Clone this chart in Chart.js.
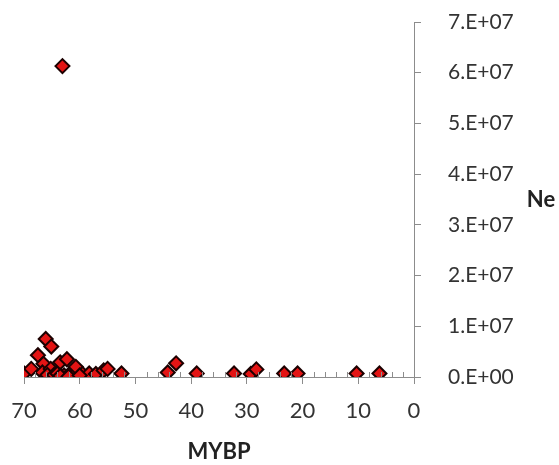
<!DOCTYPE html>
<html>
<head>
<meta charset="utf-8">
<script src="https://cdn.jsdelivr.net/npm/chart.js@4.4.0/dist/chart.umd.min.js"></script>
<style>
  body { margin: 0; background: #fff; }
  canvas { display: block; }
</style>
</head>
<body>
<canvas id="canvas" width="559" height="465"></canvas>
<script>
// age (million years before present) and effective population size
const mybp = [70.0, 68.7, 67.5, 66.5, 66.1, 65.1, 66.7, 65.2, 65.8, 64.6,
  64.0, 63.5, 63.1, 62.3, 62.8, 61.9, 61.1, 60.7, 59.5, 58.3,
  57.1, 55.7, 55.0, 52.5, 44.2, 42.7, 39.0, 32.3, 29.3, 28.3,
  23.3, 20.9, 10.3, 6.2, 63.5, 62.0, 60.0];
const ne = [7e5, 1.6e6, 4.3e6, 2.6e6, 7.5e6, 6.0e6, 9e5, 1.6e6, 4e5, 4e5,
  7e5, 2.9e6, 6.13e7, 3.5e6, 3e5, 5e5, 4e5, 2.0e6, 6e5, 7e5,
  6e5, 1.3e6, 1.6e6, 7e5, 9e5, 2.7e6, 7e5, 7e5, 6e5, 1.5e6,
  7e5, 7e5, 7e5, 7e5, 2e5, 1e5, 3e5];

const xTicks = [0, 10, 20, 30, 40, 50, 60, 70];
const yTickLabels = ["0.E+00", "1.E+07", "2.E+07", "3.E+07", "4.E+07", "5.E+07", "6.E+07", "7.E+07"];

const points = mybp.map((x, i) => ({ x: x, y: ne[i] }));

const axisColor = "#8c8c8c";
const textColor = "#333";
const font = "Lato";

// short minor ticks on the x axis and the "Ne" axis title
const extras = {
  id: "extras",
  afterDraw(chart) {
    const ctx = chart.ctx;
    const xs = chart.scales.x;
    const area = chart.chartArea;
    ctx.save();
    ctx.strokeStyle = axisColor;
    ctx.lineWidth = 1;
    for (let v = 2; v < 70; v += 2) {
      if (v % 10 === 0) continue;
      const px = Math.round(xs.getPixelForValue(v)) + 0.5;
      ctx.beginPath();
      ctx.moveTo(px, area.bottom);
      ctx.lineTo(px, area.bottom - 5);
      ctx.stroke();
    }
    ctx.fillStyle = "#222";
    ctx.font = "bold 22px " + font;
    ctx.textAlign = "center";
    ctx.textBaseline = "middle";
    ctx.fillText("Ne", 541, (area.top + area.bottom) / 2);
    ctx.restore();
  }
};

new Chart(document.getElementById("canvas"), {
  type: "scatter",
  data: {
    datasets: [{
      data: points,
      pointStyle: "rectRot",
      pointRadius: 7,
      pointBackgroundColor: "#e31414",
      pointBorderColor: "#1c0000",
      pointBorderWidth: 2
    }]
  },
  options: {
    responsive: false,
    animation: false,
    devicePixelRatio: 1,
    layout: { padding: { left: 24, top: 22, right: 0, bottom: 0 } },
    plugins: { legend: { display: false }, tooltip: { enabled: false } },
    scales: {
      x: {
        type: "linear",
        position: "bottom",
        reverse: true,
        min: 0,
        max: 70,
        afterBuildTicks: (s) => { s.ticks = xTicks.map(v => ({ value: v })); },
        afterFit: (s) => { s.height = 88; s.paddingLeft = 0; s.paddingRight = 0; },
        ticks: { color: textColor, font: { family: font, size: 22 }, padding: 14, maxRotation: 0 },
        grid: { drawOnChartArea: false, drawTicks: true, tickLength: 7, color: axisColor },
        border: { color: axisColor },
        title: {
          display: true,
          text: "MYBP",
          color: "#222",
          font: { family: font, size: 22, weight: "bold" },
          padding: { top: 0, bottom: 0 }
        }
      },
      y: {
        type: "linear",
        position: "right",
        min: 0,
        max: 7e7,
        afterBuildTicks: (s) => { s.ticks = yTickLabels.map((t, i) => ({ value: i * 1e7 })); },
        afterFit: (s) => { s.width = 145; s.paddingTop = 0; s.paddingBottom = 0; },
        ticks: {
          color: textColor,
          font: { family: font, size: 21 },
          padding: 27,
          callback: (v, i) => yTickLabels[i]
        },
        grid: { drawOnChartArea: false, drawTicks: true, tickLength: 7, color: axisColor },
        border: { color: axisColor }
      }
    }
  },
  plugins: [extras]
});
</script>
</body>
</html>
